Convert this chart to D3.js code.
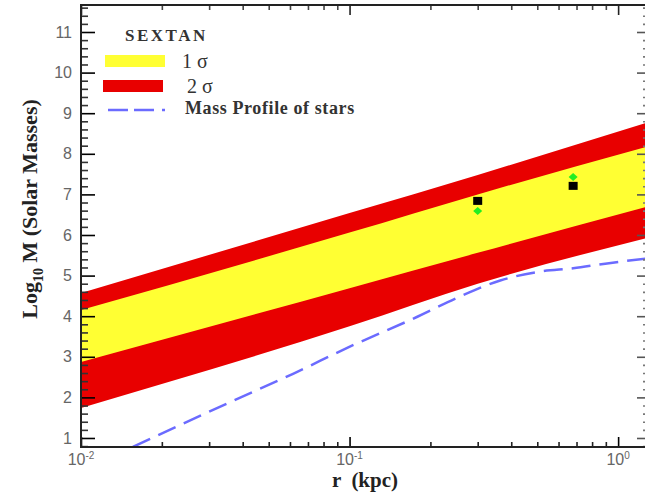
<!DOCTYPE html>
<html>
<head>
<meta charset="utf-8">
<script src="https://cdn.jsdelivr.net/npm/d3@7"></script>
<style>
  body { margin: 0; background: #fff; }
  svg { display: block; }
</style>
</head>
<body>
<svg id="chart" width="645" height="493"></svg>
<script>
// band edges, log10 M at given r (kpc)
const bandR = [0.01, 0.1, 0.3, 1.27];
const twoSigmaTop = [4.57, 6.54, 7.48, 8.76];
const oneSigmaTop = [4.15, 6.06, 7.00, 8.17];
const oneSigmaBottom = [2.87, 4.69, 5.56, 6.69];
const twoSigmaBottom = [1.74, 3.75, 4.80, 5.92];

// mass profile of stars (dashed)
const starR = [0.0156, 0.0375, 0.0616, 0.098, 0.178, 0.251, 0.364, 0.513, 0.68, 0.91, 1.27];
const starM = [0.78, 1.94, 2.58, 3.22, 3.98, 4.45, 4.88, 5.10, 5.18, 5.30, 5.42];

// measured points
const pointR = [0.30, 0.68];
const blackM = [6.84, 7.21];
const greenM = [6.59, 7.43];

const yTicks = [1, 2, 3, 4, 5, 6, 7, 8, 9, 10, 11];
const xTicks = [0.01, 0.1, 1];
const xTickExp = ["-2", "-1", "0"];

const margin = { top: 5, right: -1, bottom: 46, left: 81 };
const W = 645, H = 493;
const svg = d3.select("#chart");

const x = d3.scaleLog()
    .domain([0.01, 1.27])
    .range([margin.left, W - margin.right]);
const y = d3.scaleLinear()
    .domain([0.778, 11.665])
    .range([H - margin.bottom, margin.top]);

svg.append("clipPath").attr("id", "plotclip")
  .append("rect")
    .attr("x", margin.left).attr("y", margin.top)
    .attr("width", x.range()[1] - margin.left)
    .attr("height", y.range()[0] - margin.top);

const plot = svg.append("g").attr("clip-path", "url(#plotclip)");

const band = (lo, hi) => d3.area()
    .curve(d3.curveMonotoneX)
    .x((d, i) => x(bandR[i]))
    .y0((d, i) => y(lo[i]))
    .y1((d, i) => y(hi[i]));

plot.append("path")
    .datum(bandR)
    .attr("d", band(twoSigmaBottom, twoSigmaTop))
    .attr("fill", "#e80000");
plot.append("path")
    .datum(bandR)
    .attr("d", band(oneSigmaBottom, oneSigmaTop))
    .attr("fill", "#ffff33");

plot.append("path")
    .datum(starR)
    .attr("d", d3.line().curve(d3.curveMonotoneX).x(d => x(d)).y((d, i) => y(starM[i])))
    .attr("fill", "none")
    .attr("stroke", "#6b6bff")
    .attr("stroke-width", 2.5)
    .attr("stroke-dasharray", "19,9");

// green diamonds, black squares
plot.selectAll(".gd")
  .data(pointR)
  .join("path")
    .attr("class", "gd")
    .attr("d", (d, i) => {
      const cx = x(d), cy = y(greenM[i]);
      return `M${cx},${cy - 4}L${cx + 4.5},${cy}L${cx},${cy + 4}L${cx - 4.5},${cy}Z`;
    })
    .attr("fill", "#22ee22");
plot.selectAll(".bs")
  .data(pointR)
  .join("rect")
    .attr("class", "bs")
    .attr("x", d => x(d) - 4.5)
    .attr("y", (d, i) => y(blackM[i]) - 4)
    .attr("width", 9).attr("height", 8)
    .attr("fill", "#000");

// minor ticks
const yMinor = d3.range(8, 117, 2).map(v => v / 10).filter(v => v % 1 !== 0);
const xMinor = [];
[0.01, 0.1, 1].forEach(p => { for (let k = 2; k <= 9; k++) if (p * k < 1.27) xMinor.push(p * k); });

const tickStyle = (g, col) => {
  g.select(".domain").remove();
  g.selectAll(".tick line").attr("stroke", col).attr("stroke-width", 1.6);
};

svg.append("g").attr("transform", `translate(${margin.left},0)`)
  .call(d3.axisLeft(y).tickValues(yMinor).tickSize(-7).tickFormat(""))
  .call(g => tickStyle(g, "#333"));
svg.append("g").attr("transform", `translate(${margin.left},0)`)
  .call(d3.axisLeft(y).tickValues(yTicks).tickSize(-14).tickPadding(9).tickFormat(d3.format("d")))
  .call(g => tickStyle(g, "#000"))
  .call(g => g.selectAll("text")
      .attr("font-family", "Liberation Sans, Arial, sans-serif")
      .attr("font-size", 16).attr("fill", "#666"));

svg.append("g").attr("transform", `translate(${x.range()[1]},0)`)
  .call(d3.axisRight(y).tickValues(yMinor).tickSize(-3).tickFormat(""))
  .call(g => tickStyle(g, "#777"));
svg.append("g").attr("transform", `translate(${x.range()[1]},0)`)
  .call(d3.axisRight(y).tickValues(yTicks).tickSize(-9).tickFormat(""))
  .call(g => tickStyle(g, "#555"));

const bottomY = y.range()[0];
svg.append("g").attr("transform", `translate(0,${bottomY})`)
  .call(d3.axisBottom(x).tickValues(xMinor).tickSize(-5).tickFormat(""))
  .call(g => tickStyle(g, "#222"));
svg.append("g").attr("transform", `translate(0,${bottomY})`)
  .call(d3.axisBottom(x).tickValues(xTicks).tickSize(-10).tickFormat(""))
  .call(g => tickStyle(g, "#000"));
svg.append("g").attr("transform", `translate(0,${margin.top})`)
  .call(d3.axisTop(x).tickValues(xMinor).tickSize(-5).tickFormat(""))
  .call(g => tickStyle(g, "#444"));
svg.append("g").attr("transform", `translate(0,${margin.top})`)
  .call(d3.axisTop(x).tickValues(xTicks).tickSize(-10).tickFormat(""))
  .call(g => tickStyle(g, "#222"));

// x tick labels with superscript
const xl = svg.append("g")
    .attr("font-family", "Liberation Sans, Arial, sans-serif")
    .attr("fill", "#666");
xTicks.forEach((t, i) => {
  const txt = xl.append("text")
      .attr("x", x(t))
      .attr("y", 465)
      .attr("text-anchor", "middle")
      .attr("font-size", 16);
  txt.append("tspan").text("10");
  txt.append("tspan").attr("dy", -6).attr("font-size", 10).text(xTickExp[i]);
});

// frame
svg.append("path")
    .attr("d", `M${x.range()[1] + 2},${margin.top}H${margin.left}V${bottomY}H${x.range()[1] + 2}`)
    .attr("fill", "none")
    .attr("stroke", "#222")
    .attr("stroke-width", 2);

// axis titles
svg.append("text")
    .attr("transform", `translate(37,209) rotate(-90)`)
    .attr("text-anchor", "middle")
    .attr("font-family", "Liberation Serif, Times New Roman, serif")
    .attr("font-weight", "bold")
    .attr("font-size", 22)
    .attr("fill", "#222")
    .call(t => {
      t.append("tspan").text("Log");
      t.append("tspan").attr("dy", 6).attr("font-size", 14).text("10");
      t.append("tspan").attr("dy", -6).text(" M (Solar Masses)");
    });

svg.append("text")
    .attr("x", 365)
    .attr("y", 487)
    .attr("text-anchor", "middle")
    .attr("font-family", "Liberation Serif, Times New Roman, serif")
    .attr("font-weight", "bold")
    .attr("font-size", 21)
    .attr("fill", "#222")
    .attr("xml:space", "preserve")
    .text("r  (kpc)");

// legend
const lg = svg.append("g")
    .attr("font-family", "Liberation Serif, Times New Roman, serif")
    .attr("fill", "#333");
lg.append("text")
    .attr("x", 125).attr("y", 41)
    .attr("font-weight", "bold").attr("font-size", 17)
    .attr("letter-spacing", 2.5)
    .text("SEXTAN");
lg.append("rect").attr("x", 105).attr("y", 55).attr("width", 60).attr("height", 12).attr("fill", "#ffff33");
lg.append("text").attr("x", 182).attr("y", 68).attr("font-size", 20).text("1 σ");
lg.append("rect").attr("x", 103).attr("y", 80).attr("width", 60).attr("height", 12).attr("fill", "#e80000");
lg.append("text").attr("x", 187).attr("y", 93).attr("font-size", 20).text("2 σ");
lg.append("line")
    .attr("x1", 108).attr("x2", 166).attr("y1", 110).attr("y2", 110)
    .attr("stroke", "#6b6bff").attr("stroke-width", 2.5)
    .attr("stroke-dasharray", "20,6,20,8,3");
lg.append("text")
    .attr("x", 185).attr("y", 114)
    .attr("font-weight", "bold").attr("font-size", 18)
    .attr("letter-spacing", 0.6)
    .text("Mass Profile of stars");
</script>
</body>
</html>
